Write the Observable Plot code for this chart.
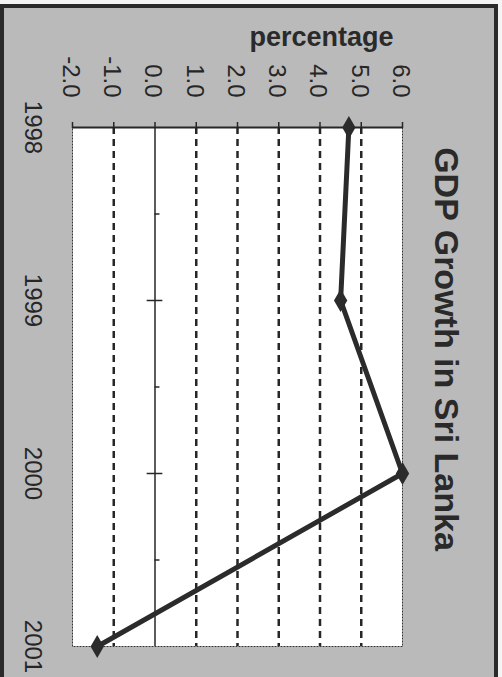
<!DOCTYPE html>
<html><head><meta charset="utf-8">
<script src="https://cdn.jsdelivr.net/npm/d3@7"></script>
<script src="https://cdn.jsdelivr.net/npm/@observablehq/plot@0.6"></script>
<style>
html,body{margin:0;padding:0;background:#fff;}
#wrap{position:relative;width:502px;height:677px;overflow:hidden;background:#f4f4f4;}
#bg{position:absolute;left:0;top:4px;width:490px;height:700px;background:#bababa;border-top:4px solid #2a2a2a;border-left:4px solid #2a2a2a;border-right:4px solid #2a2a2a;}
#chart{position:absolute;left:0;top:0;}
</style></head><body>
<div id="wrap"><div id="bg"></div><div id="chart"></div></div>
<script>
const years = [1998, 1999, 2000, 2001];
const growth = [4.7, 4.5, 6.0, -1.4];
const valueTicks = [-2, -1, 0, 1, 2, 3, 4, 5, 6];
const gridValues = [-1, 1, 2, 3, 4, 5];
const majorYearTicks = [1999, 2000];
const minorYearTicks = [1998.5, 1999.5, 2000.5];
const title = "GDP Growth in Sri Lanka";
const axisTitle = "percentage";

const data = years.map((year, i) => ({year, value: growth[i]}));
const ink = "#262626";

const chart = Plot.plot({
  width: 502, height: 677,
  marginLeft: 72, marginRight: 100, marginTop: 127, marginBottom: 31,
  style: {background: "transparent", fontFamily: "'Liberation Sans', Arial, sans-serif", color: ink},
  x: {domain: [-2, 6], axis: null},
  y: {domain: [1998, 2001], reverse: true, axis: null},
  marks: [
    Plot.frame({fill: "white", stroke: null}),
    Plot.ruleX(gridValues, {stroke: ink, strokeWidth: 2.5, strokeDasharray: "7,5"}),
    Plot.frame({stroke: "#333", strokeWidth: 1, strokeDasharray: "2,1"}),
    Plot.ruleY([1998], {stroke: ink, strokeWidth: 2}),
    Plot.axisX({anchor: "top", ticks: valueTicks, tickSize: 6, tickFormat: () => "", stroke: ink, strokeWidth: 1.5, label: null}),
    Plot.ruleX([0], {stroke: ink, strokeWidth: 1.5}),
    Plot.ruleY(majorYearTicks, {y: d => d, x1: -0.19, x2: 0.19, stroke: ink, strokeWidth: 1.5}),
    Plot.ruleY(minorYearTicks, {y: d => d, x1: 0, x2: 0.12, stroke: ink, strokeWidth: 1.5}),
    Plot.text(valueTicks, {x: d => d, text: d => d.toFixed(1), frameAnchor: "top", dy: -30, dx: -2, rotate: 90, textAnchor: "end", lineAnchor: "middle", fontSize: 24, fill: ink}),
    Plot.text(years, {y: d => d, text: d => String(d), frameAnchor: "left", dx: -40, rotate: 90, textAnchor: "middle", lineAnchor: "middle", fontSize: 24, fill: ink}),
    Plot.line(data, {x: "value", y: "year", stroke: "#2b2b2b", strokeWidth: 5}),
    Plot.dot(data, {x: "value", y: "year", symbol: "diamond", r: 7, fill: "#2b2b2b", stroke: null}),
    Plot.text([title], {text: d => d, frameAnchor: "right", dx: 43, dy: -38, rotate: 90, textAnchor: "middle", lineAnchor: "middle", fontSize: 34, fontWeight: "bold", fill: "#2a2a2a"}),
    Plot.text([axisTitle], {text: d => d, frameAnchor: "top-right", dx: -9, dy: -90, textAnchor: "end", lineAnchor: "middle", fontSize: 27, fontWeight: "bold", fill: "#2a2a2a"})
  ]
});
document.getElementById("chart").append(chart);
</script>
</body></html>
